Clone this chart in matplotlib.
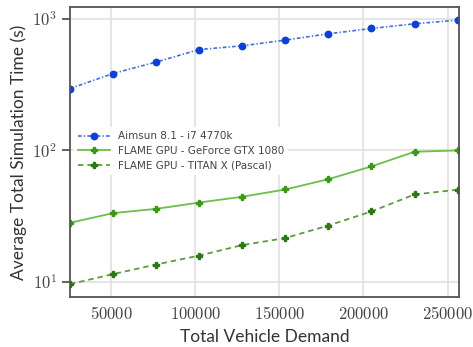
import math
import matplotlib
matplotlib.use('Agg')
import matplotlib.pyplot as plt
from matplotlib.ticker import FuncFormatter, LogLocator, NullFormatter

plt.rcParams['mathtext.fontset'] = 'cm'

# total vehicle demand
demand = [25600, 51200, 76800, 102400, 128000, 153600, 179200, 204800, 230400, 256000]

# average total simulation time (s)
aimsun = [295, 384, 469, 584, 623, 689, 769, 844, 916, 977]
gtx1080 = [28.2, 33.4, 36.0, 40.2, 44.5, 50.5, 60.5, 75.6, 97.7, 100]
titanx = [9.65, 11.5, 13.6, 15.9, 19.1, 21.6, 26.9, 34.4, 46.3, 50.3]

labels = ['Aimsun 8.1 - i7 4770k',
          'FLAME GPU - GeForce GTX 1080',
          'FLAME GPU - TITAN X (Pascal)']

fig = plt.figure(figsize=(4.73, 3.47), dpi=100)
ax = fig.add_axes([0.148, 0.144, 0.823, 0.836])

ax.plot(demand, aimsun, linestyle=(0, (2.2, 1.3, 0.8, 1.3)), color='#3a6ee8', lw=1.2,
        marker='o', ms=4.6, mfc='#0a3fe0', mec='#0a3fe0', label=labels[0])
ax.plot(demand, gtx1080, linestyle='-', color='#6cbf4a', lw=1.3,
        marker='P', ms=4.8, mfc='#3a9a16', mec='#3a9a16', label=labels[1])
ax.plot(demand, titanx, linestyle=(0, (3, 2.2)), color='#5c9c3c', lw=1.3,
        marker='P', ms=4.8, mfc='#2a7a10', mec='#2a7a10', label=labels[2])

ax.set_yscale('log')
ax.set_xlim(25600, 257000)
ax.set_ylim(7.7, 1230)

ax.set_xticks([50000, 100000, 150000, 200000, 250000])
ax.xaxis.set_major_formatter(FuncFormatter(lambda v, p: r'$%d$' % v))
ax.yaxis.set_major_locator(LogLocator(base=10))
ax.yaxis.set_major_formatter(FuncFormatter(lambda v, p: r'$10^{%d}$' % round(math.log10(v))))
ax.yaxis.set_minor_formatter(NullFormatter())
ax.tick_params(axis='y', which='minor', left=False)
ax.tick_params(axis='x', length=0, pad=6, labelsize=12, labelcolor='#444444')
ax.tick_params(axis='y', which='major', length=6, width=1.3, color='#555555',
               labelsize=12, labelcolor='#444444')

ax.grid(True, which='major', color='#e0e0e0', lw=1.2)
ax.set_axisbelow(True)
for s in ax.spines.values():
    s.set_color('#555555')
    s.set_linewidth(1.3)

ax.set_xlabel('Total Vehicle Demand', fontsize=12.5, color='#333333', family='Lato')
ax.set_ylabel('Average Total Simulation Time (s)', fontsize=12.5, color='#333333',
              family='Lato')

leg = ax.legend(loc='upper left', bbox_to_anchor=(0.0, 0.6), fontsize=7.5,
                frameon=True, edgecolor='none', facecolor='white', framealpha=1,
                handlelength=3, labelspacing=0.45, borderaxespad=0.4)
for t in leg.get_texts():
    t.set_color('#444444')

fig.savefig('out.png', dpi=100)
